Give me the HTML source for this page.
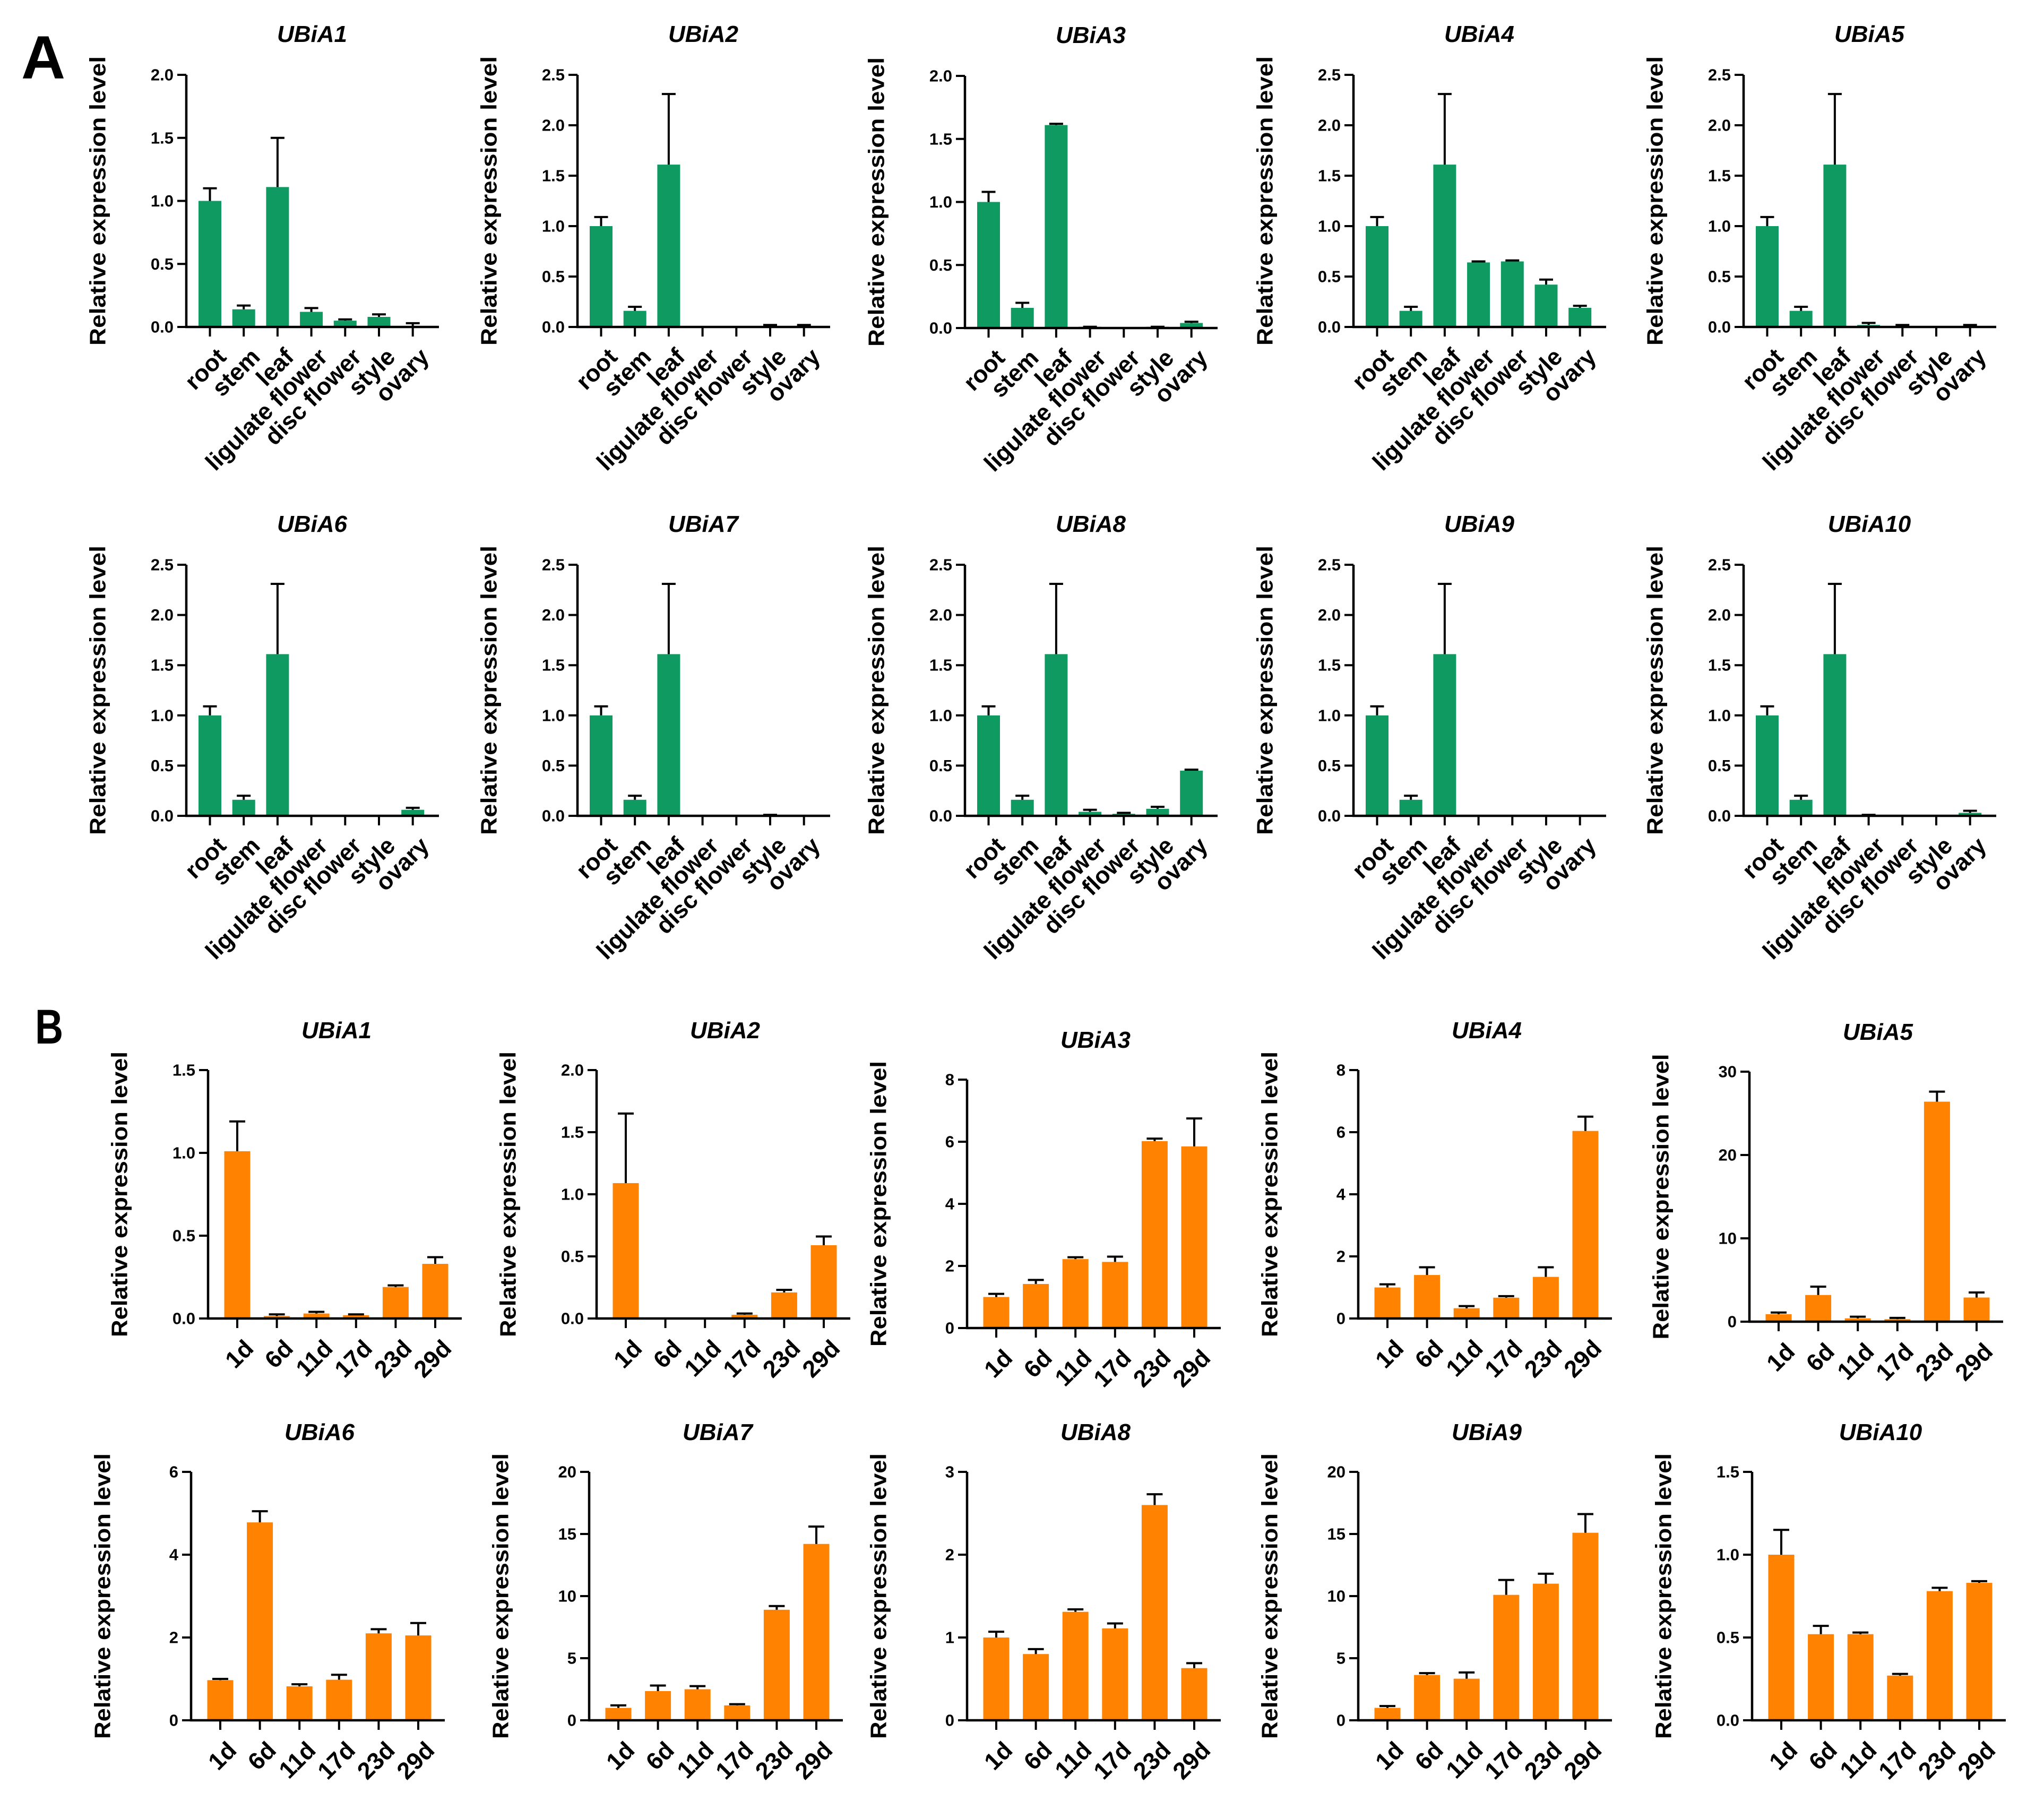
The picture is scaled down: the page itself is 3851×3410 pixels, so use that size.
<!DOCTYPE html>
<html><head><meta charset="utf-8">
<style>
html,body{margin:0;padding:0;background:#fff;}
svg{display:block;}
text{font-family:"Liberation Sans",Arial,sans-serif;font-weight:bold;fill:#000;}
</style></head>
<body>
<svg id="fig" width="3851" height="3410" viewBox="0 0 3851 3410" xmlns="http://www.w3.org/2000/svg">
<rect x="0" y="0" width="3851" height="3410" fill="#fff"/>
<text x="40" y="148" font-size="115">A</text>
<text x="66" y="1966" font-size="92" transform="translate(66 1966) scale(0.8 1) translate(-66 -1966)">B</text>
</svg>
<script>
// ---------- data ----------
const tissueCategories = ["root","stem","leaf","ligulate flower","disc flower","style","ovary"];
const stageCategories = ["1d","6d","11d","17d","23d","29d"];
const geneNames = ["UBiA1","UBiA2","UBiA3","UBiA4","UBiA5","UBiA6","UBiA7","UBiA8","UBiA9","UBiA10"];

const tissueMax = [2.0,2.5,2.0,2.5,2.5,2.5,2.5,2.5,2.5,2.5];
const tissueStep = [0.5,0.5,0.5,0.5,0.5,0.5,0.5,0.5,0.5,0.5];
const tissueValues = [
 [1.0,0.14,1.11,0.12,0.05,0.08,0.0],
 [1.0,0.16,1.61,0,0,0.01,0.01],
 [1.0,0.16,1.61,0.01,0,0.01,0.04],
 [1.0,0.16,1.61,0.64,0.65,0.42,0.19],
 [1.0,0.16,1.61,0.02,0.01,0,0.01],
 [1.0,0.16,1.61,0,0,0,0.06],
 [1.0,0.16,1.61,0,0,0.01,0],
 [1.0,0.16,1.61,0.04,0.02,0.07,0.45],
 [1.0,0.16,1.61,0,0,0,0],
 [1.0,0.16,1.61,0.01,0,0,0.03]
];
const tissueErrTop = [
 [1.1,0.17,1.5,0.15,0.06,0.1,0.03],
 [1.09,0.2,2.31,0,0,0.02,0.02],
 [1.08,0.2,1.62,0.01,0,0.01,0.05],
 [1.09,0.2,2.31,0.65,0.66,0.47,0.21],
 [1.09,0.2,2.31,0.04,0.02,0,0.02],
 [1.09,0.2,2.31,0,0,0,0.08],
 [1.09,0.2,2.31,0,0,0.01,0],
 [1.09,0.2,2.31,0.06,0.03,0.09,0.46],
 [1.09,0.2,2.31,0,0,0,0],
 [1.09,0.2,2.31,0.01,0,0,0.05]
];

const stageMax = [1.5,2.0,8,8,30,6,20,3,20,1.5];
const stageStep = [0.5,0.5,2,2,10,2,5,1,5,0.5];
const stageDecimals = [1,1,0,0,0,0,0,0,0,1];
const stageValues = [
 [1.01,0.015,0.03,0.02,0.19,0.33],
 [1.09,0,0,0.03,0.21,0.59],
 [1.0,1.42,2.22,2.13,6.02,5.85],
 [1.0,1.4,0.33,0.67,1.34,6.04],
 [0.9,3.2,0.4,0.3,26.4,2.9],
 [0.97,4.78,0.82,0.98,2.1,2.05],
 [1.0,2.35,2.5,1.2,8.9,14.2],
 [1.0,0.8,1.31,1.11,2.6,0.63],
 [1.0,3.65,3.35,10.1,11.0,15.1],
 [1.0,0.52,0.52,0.27,0.78,0.83]
];
const stageErrTop = [
 [1.19,0.025,0.04,0.025,0.2,0.37],
 [1.65,0,0,0.04,0.23,0.66],
 [1.1,1.55,2.28,2.3,6.1,6.75],
 [1.1,1.65,0.4,0.72,1.65,6.5],
 [1.1,4.2,0.6,0.45,27.6,3.5],
 [1.0,5.05,0.87,1.1,2.2,2.35],
 [1.2,2.8,2.75,1.3,9.2,15.6],
 [1.07,0.86,1.34,1.17,2.73,0.69],
 [1.15,3.8,3.85,11.3,11.8,16.6],
 [1.15,0.57,0.53,0.28,0.8,0.84]
];

// ---------- layout ----------
const tissueLayout = [
 {ax:351,top:141,zero:616},{ax:1088,top:141,zero:616},{ax:1818,top:143,zero:618},{ax:2550,top:141,zero:616},{ax:3285,top:141,zero:616},
 {ax:351,top:1064,zero:1537},{ax:1088,top:1064,zero:1537},{ax:1818,top:1064,zero:1537},{ax:2550,top:1064,zero:1537},{ax:3285,top:1064,zero:1537}
];
const stageLayout = [
 {ax:392,top:2016,zero:2484},{ax:1124,top:2016,zero:2484},{ax:1822,top:2034,zero:2502},{ax:2559,top:2016,zero:2484},{ax:3296,top:2019,zero:2490},
 {ax:360,top:2773,zero:3241},{ax:1110,top:2773,zero:3241},{ax:1822,top:2773,zero:3241},{ax:2559,top:2773,zero:3241},{ax:3301,top:2773,zero:3241}
];

const NS = "http://www.w3.org/2000/svg";
const svg = document.getElementById("fig");
function mk(tag, attrs, parent){
  const e = document.createElementNS(NS, tag);
  for (const k in attrs) e.setAttribute(k, attrs[k]);
  (parent||svg).appendChild(e);
  return e;
}

function drawPanel(id, L, cats, vals, errs, maxV, step, dec, color, geom){
  const g = mk("g", {});
  
  
  const y = v => L.zero - (v / maxV) * (L.zero - L.top);
  const x = i => L.ax + geom.first + i * geom.spacing;
  const xEnd = L.ax + geom.len;

  const t = mk("text", {x: L.ax + geom.titleDx, y: L.top - geom.titleDy, "font-size": 44, "font-style": "italic", "text-anchor": "middle"}, g);
  t.textContent = geneNames[geom.gi];
  
  

  const cy = (L.top + L.zero) / 2, lx = L.ax - 167;
  const yl = mk("text", {x: lx, y: cy, "font-size": 42, "text-anchor": "middle", "dominant-baseline": "central", transform: "rotate(-90 " + lx + " " + cy + ")", textLength: geom.ylen, lengthAdjust: "spacingAndGlyphs"}, g);
  yl.textContent = "Relative expression level";
  
  

  for (let i = 0; i < cats.length; i++){
    const v = vals[i], e = errs[i];
    const cx = x(i);
    const h = L.zero - y(v);
    if (h > 0.5){
      const b = mk("rect", {x: cx - geom.bw/2, y: y(v), width: geom.bw, height: h, fill: color}, g);
      
      
    }
    if (e > v || e > 0){
      const eb = mk("path", {d: "M" + cx + " " + y(v) + "V" + y(e) + "M" + (cx - geom.cap) + " " + y(e) + "H" + (cx + geom.cap), stroke: "#000", "stroke-width": 4, fill: "none"}, g);
      
      
    }
  }

  const axp = mk("path", {d: "M" + L.ax + " " + (L.top) + "V" + L.zero + "M" + (L.ax - 2) + " " + L.zero + "H" + xEnd, stroke: "#000", "stroke-width": 4.5, fill: "none"}, g);
  
  

  const n = Math.round(maxV / step);
  for (let k = 0; k <= n; k++){
    const v = k * step, ty = y(v);
    const tk = mk("line", {x1: L.ax - 17, x2: L.ax, y1: ty, y2: ty, stroke: "#000", "stroke-width": 4}, g);
    
    
    const tl = mk("text", {x: L.ax - 24, y: ty, "font-size": 31, "text-anchor": "end", "dominant-baseline": "central"}, g);
    tl.textContent = v.toFixed(dec);
    
    
  }
  for (let i = 0; i < cats.length; i++){
    const cx = x(i);
    const tk = mk("line", {x1: cx, x2: cx, y1: L.zero, y2: L.zero + 18, stroke: "#000", "stroke-width": 4}, g);
    
    
    const lx2 = cx + 10, ly2 = L.zero + 36;
    const cl = mk("text", {x: lx2, y: ly2, "font-size": geom.catFont, "text-anchor": "end", "dominant-baseline": "hanging", transform: "rotate(-45 " + lx2 + " " + ly2 + ")"}, g);
    cl.textContent = cats[i];
    
    
  }
}

for (let gi = 0; gi < 10; gi++){
  drawPanel("tissue-" + geneNames[gi], tissueLayout[gi], tissueCategories, tissueValues[gi], tissueErrTop[gi], tissueMax[gi], tissueStep[gi], 1, "#0e9a61",
    {first:44.5, spacing:63.7, bw:43, cap:13, len:476, titleDx:237, titleDy:62, ylen:545, catFont:45, gi:gi});
}
for (let gi = 0; gi < 10; gi++){
  drawPanel("stage-" + geneNames[gi], stageLayout[gi], stageCategories, stageValues[gi], stageErrTop[gi], stageMax[gi], stageStep[gi], stageDecimals[gi], "#ff8200",
    {first:55, spacing:74.6, bw:49, cap:15, len:478, titleDx:242, titleDy:60, ylen:538, catFont:45, gi:gi});
}
</script>
</body></html>
